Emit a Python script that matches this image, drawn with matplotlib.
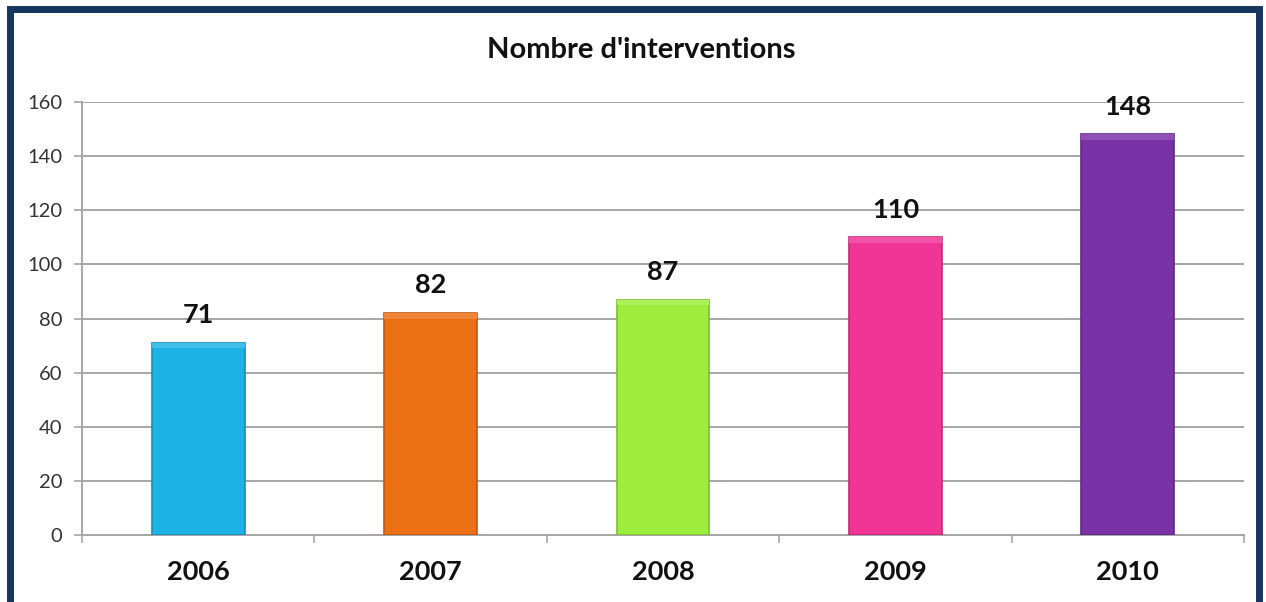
import matplotlib.pyplot as plt
import matplotlib
from matplotlib.patches import Rectangle
from matplotlib.colors import to_rgb

matplotlib.rcParams['font.family'] = ['Lato', 'DejaVu Sans']

years = ['2006', '2007', '2008', '2009', '2010']
interventions = [71, 82, 87, 110, 148]
colors = ['#1db2e6', '#ec7013', '#9eec3c', '#f03596', '#7832a6']
title = "Nombre d'interventions"


def shade(c, f):
    r, g, b = to_rgb(c)
    if f < 1:
        return (r * f, g * f, b * f)
    return (r + (1 - r) * (f - 1), g + (1 - g) * (f - 1), b + (1 - b) * (f - 1))


fig = plt.figure(figsize=(12.66, 6.02), dpi=100)
ax = fig.add_axes([82 / 1266, 1 - 535 / 602, (1244 - 82) / 1266, (535 - 102) / 602])

x = range(len(years))
ax.bar(x, interventions, width=0.4, color=colors,
       edgecolor=[shade(c, 0.8) for c in colors], linewidth=1.2, zorder=3)
# soft strip on top to hint at the bevel
ax.bar(x, [2] * len(x), width=0.4, bottom=[v - 2 for v in interventions],
       color=[shade(c, 1.15) for c in colors], linewidth=0, zorder=4)

for i, v in enumerate(interventions):
    ax.annotate(str(v), (i, v), xytext=(0, 20), textcoords='offset points',
                ha='center', va='center', fontsize=19.5, fontweight='bold', color='#111111')

ax.set_xlim(-0.5, len(years) - 0.5)
ax.set_ylim(0, 160)
ax.set_yticks(range(0, 161, 20))
ax.yaxis.grid(True, color='#a6a6a6', linewidth=1.4, zorder=0)
ax.set_axisbelow(True)

ax.set_xticks(x)
ax.set_xticklabels(years, fontsize=19.5, fontweight='bold', color='#111111')
ax.set_xticks([i + 0.5 for i in range(-1, len(years))], minor=True)
ax.tick_params(axis='x', which='major', length=0, pad=18)
ax.tick_params(axis='x', which='minor', length=6, color='#a6a6a6', width=1.2)
ax.tick_params(axis='y', length=6, color='#a6a6a6', width=1.2, labelsize=14.5,
               pad=8, labelcolor='#333333')

for s in ['top', 'right']:
    ax.spines[s].set_visible(False)
for s in ['left', 'bottom']:
    ax.spines[s].set_color('#a6a6a6')
    ax.spines[s].set_linewidth(1.4)

fig.text(641 / 1266, 1 - 50 / 602, title, ha='center', va='center',
         fontsize=21, fontweight='bold', color='#111111')

fig.patches.append(Rectangle((10 / 1266, -0.05), (1249 / 1266), 1.05 - 9 / 602,
                             transform=fig.transFigure, fill=False,
                             edgecolor='#17365d', linewidth=5))

fig.savefig('out.png', dpi=100)
